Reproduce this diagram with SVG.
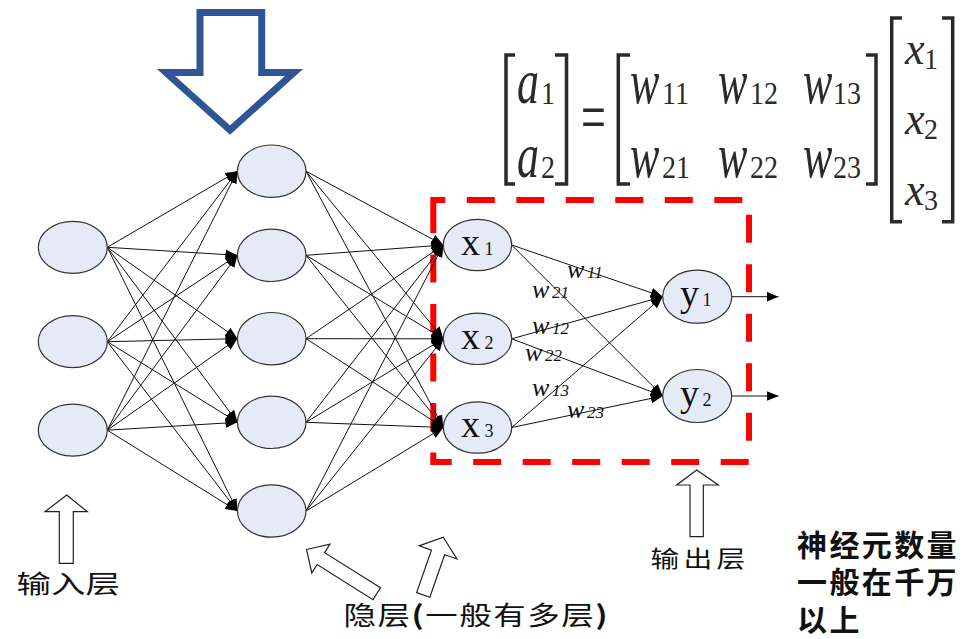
<svg xmlns="http://www.w3.org/2000/svg" width="964" height="639" viewBox="0 0 964 639">
<style>
.node{fill:#E4EBF6;stroke:#333;stroke-width:1.2}
.conn line{stroke:#111;stroke-width:1;marker-end:url(#ah)}
.hollow{fill:#fff;stroke:#222;stroke-width:1.2;stroke-linejoin:miter}
.nl{font-family:"Liberation Serif","Times New Roman",serif;font-size:38px;fill:#111}
.ns{font-family:"Liberation Serif","Times New Roman",serif;font-size:18px;fill:#111}
.wl{font-family:"Liberation Serif","Times New Roman",serif;font-style:italic;font-size:26px;fill:#111}
.wd{font-family:"Liberation Serif","Times New Roman",serif;font-style:italic;font-size:17px;fill:#111}
.ml{font-family:"Liberation Serif","Times New Roman",serif;font-style:italic;font-size:44px;fill:#2a2a2a}
.md{font-family:"Liberation Serif","Times New Roman",serif;font-size:28px;fill:#2a2a2a}
.br{fill:none;stroke:#2a2a2a;stroke-width:3.5}
.cjk{font-family:"Noto Sans CJK SC","Noto Sans",sans-serif;fill:#111}
.cjkb{font-family:"Noto Sans CJK SC","Noto Sans",sans-serif;font-weight:bold;font-size:30px;letter-spacing:2.4px;fill:#111}
</style>
<defs>
<marker id="ah" viewBox="0 0 12 10" refX="12" refY="5" markerWidth="12" markerHeight="10" markerUnits="userSpaceOnUse" orient="auto"><path d="M0,0 L12,5 L0,10 z" fill="#000"/></marker>
</defs>
<rect width="964" height="639" fill="#fff"/>

<!-- big blue down arrow -->
<g id="blue-arrow">
<path d="M200,12.5 L261.7,12.5 L261.7,72.5 L294,72.5 L230,130 L166,72.5 L200,72.5 Z" fill="#fff" stroke="#2F5597" stroke-width="7" stroke-linejoin="miter"/>
</g>

<!-- matrix equation -->
<g id="matrix">
<path class="br" d="M515,55 H506 V184 H515"/>
<path class="br" d="M555,55 H566.5 V184 H555"/>
<path class="br" d="M630,55 H618.3 V184 H630"/>
<path class="br" d="M866,55 H876 V184 H866"/>
<path class="br" d="M902,18 H891.7 V221.7 H902"/>
<path class="br" d="M942,18 H952.7 V221.7 H942"/>
<text class="ml" transform="matrix(1 0 0 1.45 517 103)">a</text>
<text class="md" transform="matrix(1 0 0 1.1 541 104)">1</text>
<text class="ml" transform="matrix(1 0 0 1.45 517 177)">a</text>
<text class="md" transform="matrix(1 0 0 1.1 541 178)">2</text>
<text class="ml" transform="matrix(1 0 0 1.6 581 141)" style="font-style:normal">=</text>
<text class="ml" transform="matrix(1 0 0 1.45 630 103)">w</text>
<text class="md" transform="matrix(1 0 0 1.1 662 104)">11</text>
<text class="ml" transform="matrix(1 0 0 1.45 718 103)">w</text>
<text class="md" transform="matrix(1 0 0 1.1 750 104)">12</text>
<text class="ml" transform="matrix(1 0 0 1.45 803 103)">w</text>
<text class="md" transform="matrix(1 0 0 1.1 833 104)">13</text>
<text class="ml" transform="matrix(1 0 0 1.45 630 177)">w</text>
<text class="md" transform="matrix(1 0 0 1.1 662 178)">21</text>
<text class="ml" transform="matrix(1 0 0 1.45 718 177)">w</text>
<text class="md" transform="matrix(1 0 0 1.1 750 178)">22</text>
<text class="ml" transform="matrix(1 0 0 1.45 803 177)">w</text>
<text class="md" transform="matrix(1 0 0 1.1 833 178)">23</text>
<text class="ml" transform="matrix(1 0 0 1.05 905 64)">x</text>
<text class="md" transform="matrix(1 0 0 1.05 924 69)">1</text>
<text class="ml" transform="matrix(1 0 0 1.05 905 134)">x</text>
<text class="md" transform="matrix(1 0 0 1.05 924 139)">2</text>
<text class="ml" transform="matrix(1 0 0 1.05 905 205)">x</text>
<text class="md" transform="matrix(1 0 0 1.05 924 210)">3</text>
</g>

<!-- red dashed box -->
<g id="red-box">
<path d="M433.3,216 V200 H749 V462 H433.3 Z" fill="none" stroke="#FF0000" stroke-width="6" stroke-dasharray="28 21.5"/>
</g>

<!-- connectors -->
<g id="connectors" class="conn">
<line x1="107.3" y1="247.3" x2="237.4" y2="171.2"/>
<line x1="107.3" y1="247.3" x2="237.4" y2="255.3"/>
<line x1="107.3" y1="247.3" x2="237.4" y2="338.7"/>
<line x1="107.3" y1="247.3" x2="237.4" y2="422.3"/>
<line x1="107.3" y1="247.3" x2="237.4" y2="511"/>
<line x1="107.3" y1="341.7" x2="237.4" y2="171.2"/>
<line x1="107.3" y1="341.7" x2="237.4" y2="255.3"/>
<line x1="107.3" y1="341.7" x2="237.4" y2="338.7"/>
<line x1="107.3" y1="341.7" x2="237.4" y2="422.3"/>
<line x1="107.3" y1="341.7" x2="237.4" y2="511"/>
<line x1="107.3" y1="430.2" x2="237.4" y2="171.2"/>
<line x1="107.3" y1="430.2" x2="237.4" y2="255.3"/>
<line x1="107.3" y1="430.2" x2="237.4" y2="338.7"/>
<line x1="107.3" y1="430.2" x2="237.4" y2="422.3"/>
<line x1="107.3" y1="430.2" x2="237.4" y2="511"/>
<line x1="306" y1="171.2" x2="443.3" y2="245"/>
<line x1="306" y1="171.2" x2="443.3" y2="338.8"/>
<line x1="306" y1="171.2" x2="443.3" y2="427.5"/>
<line x1="306" y1="255.3" x2="443.3" y2="245"/>
<line x1="306" y1="255.3" x2="443.3" y2="338.8"/>
<line x1="306" y1="255.3" x2="443.3" y2="427.5"/>
<line x1="306" y1="338.7" x2="443.3" y2="245"/>
<line x1="306" y1="338.7" x2="443.3" y2="338.8"/>
<line x1="306" y1="338.7" x2="443.3" y2="427.5"/>
<line x1="306" y1="422.3" x2="443.3" y2="245"/>
<line x1="306" y1="422.3" x2="443.3" y2="338.8"/>
<line x1="306" y1="422.3" x2="443.3" y2="427.5"/>
<line x1="306" y1="511" x2="443.3" y2="245"/>
<line x1="306" y1="511" x2="443.3" y2="338.8"/>
<line x1="306" y1="511" x2="443.3" y2="427.5"/>
<line x1="511.7" y1="245" x2="662.7" y2="296.7"/>
<line x1="511.7" y1="245" x2="662.7" y2="396"/>
<line x1="511.7" y1="338.8" x2="662.7" y2="296.7"/>
<line x1="511.7" y1="338.8" x2="662.7" y2="396"/>
<line x1="511.7" y1="427.5" x2="662.7" y2="296.7"/>
<line x1="511.7" y1="427.5" x2="662.7" y2="396"/>
<line x1="731.7" y1="296.7" x2="778.5" y2="296.7"/>
<line x1="731.7" y1="396" x2="778.5" y2="396"/>
</g>

<!-- weight labels -->
<g id="weights">
<text class="wl" x="567" y="278">w<tspan class="wd" x="587" y="278">11</tspan></text>
<text class="wl" x="532" y="298">w<tspan class="wd" x="552" y="298">21</tspan></text>
<text class="wl" x="532" y="334">w<tspan class="wd" x="552" y="334">12</tspan></text>
<text class="wl" x="525" y="361">w<tspan class="wd" x="545" y="361">22</tspan></text>
<text class="wl" x="532" y="396">w<tspan class="wd" x="552" y="396">13</tspan></text>
<text class="wl" x="567" y="418">w<tspan class="wd" x="587" y="418">23</tspan></text>
</g>

<!-- input layer -->
<g id="in1"><ellipse class="node" cx="72.8" cy="247.3" rx="34.5" ry="26"/></g>
<g id="in2"><ellipse class="node" cx="72.8" cy="341.7" rx="34.5" ry="26"/></g>
<g id="in3"><ellipse class="node" cx="72.8" cy="430.2" rx="34.5" ry="26"/></g>

<!-- hidden layer -->
<g id="h1"><ellipse class="node" cx="271.7" cy="171.2" rx="34.3" ry="26.2"/></g>
<g id="h2"><ellipse class="node" cx="271.7" cy="255.3" rx="34.3" ry="26.2"/></g>
<g id="h3"><ellipse class="node" cx="271.7" cy="338.7" rx="34.3" ry="26.2"/></g>
<g id="h4"><ellipse class="node" cx="271.7" cy="422.3" rx="34.3" ry="26.2"/></g>
<g id="h5"><ellipse class="node" cx="271.7" cy="511" rx="34.3" ry="26.2"/></g>

<!-- x nodes -->
<g id="x1"><ellipse class="node" cx="477.5" cy="245" rx="34.2" ry="25.7"/><text class="nl" x="461" y="255">x<tspan class="ns" x="484.5" y="255">1</tspan></text></g>
<g id="x2"><ellipse class="node" cx="477.5" cy="338.8" rx="34.2" ry="25.7"/><text class="nl" x="461" y="348.5">x<tspan class="ns" x="484.5" y="348.5">2</tspan></text></g>
<g id="x3"><ellipse class="node" cx="477.5" cy="427.5" rx="34.2" ry="25.7"/><text class="nl" x="461" y="437">x<tspan class="ns" x="484.5" y="437">3</tspan></text></g>

<!-- y nodes -->
<g id="y1"><ellipse class="node" cx="697.2" cy="296.7" rx="34.5" ry="26.5"/><text class="nl" x="680" y="306">y<tspan class="ns" x="702.5" y="306">1</tspan></text></g>
<g id="y2"><ellipse class="node" cx="697.2" cy="396" rx="34.5" ry="26.5"/><text class="nl" x="680" y="406">y<tspan class="ns" x="702.5" y="406">2</tspan></text></g>

<!-- hollow arrows -->
<g id="arrow-input"><polygon class="hollow" points="66.7,495 87.3,511.7 73.3,511.7 73.3,563.3 59.3,563.3 59.3,511.7 45,511.7"/></g>
<g id="arrow-hidden1"><polygon class="hollow" transform="translate(306.5,549.5) rotate(-57.8)" points="0,0 17,17 7,17 7,83 -7,83 -7,17 -17,17"/></g>
<g id="arrow-hidden2"><polygon class="hollow" transform="translate(443.3,537.3) rotate(19.2)" points="0,0 20,16 7,16 7,61 -7,61 -7,16 -20,16"/></g>
<g id="arrow-output"><polygon class="hollow" points="696.7,470 718.3,485 703.3,485 703.3,536.7 690,536.7 690,485 676.7,485"/></g>

<!-- labels -->
<g id="labels">
<text class="cjk" font-size="25" transform="matrix(1.38 0 0 1 16.6 593)">输入层</text>
<text class="cjk" font-size="26" letter-spacing="1.2" transform="matrix(1.25 0 0 1 343.4 625)">隐层<tspan font-weight="bold">(</tspan>一般有多层<tspan font-weight="bold">)</tspan></text>
<text class="cjk" font-size="23" letter-spacing="3.4" transform="matrix(1.25 0 0 1 650.6 566.5)">输出层</text>
<text class="cjkb" x="797" y="556">神经元数量<tspan x="797" y="593">一般在千万</tspan><tspan x="797" y="631">以上</tspan></text>
</g>
</svg>
